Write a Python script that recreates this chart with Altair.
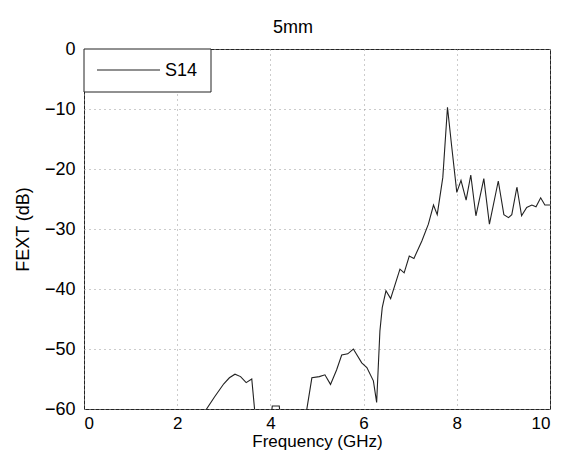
import altair as alt
import pandas as pd

freq = [2.45, 2.63, 2.80, 3.00, 3.12, 3.24, 3.36, 3.48, 3.60, 3.72,
        3.90, 4.02, 4.04, 4.19, 4.21, 4.45, 4.72,
        4.89, 5.05, 5.17, 5.29, 5.42, 5.53, 5.66, 5.78, 5.96, 6.07, 6.21, 6.28,
        6.35, 6.40, 6.48, 6.58, 6.78, 6.87, 6.98, 7.08, 7.25, 7.39, 7.50, 7.58,
        7.70, 7.80, 7.89, 8.00, 8.09, 8.20, 8.30, 8.41, 8.58, 8.70, 8.89, 9.01,
        9.11, 9.18, 9.29, 9.39, 9.50, 9.61, 9.70, 9.80, 9.89, 10.0]
fext = [-63.0, -60.0, -58.0, -55.8, -54.8, -54.2, -54.6, -55.6, -55.0, -65.0,
        -66.0, -61.0, -59.5, -59.5, -61.0, -66.0, -63.0,
        -54.8, -54.6, -54.3, -55.9, -53.5, -51.0, -50.8, -50.0, -52.3, -53.1, -55.3, -58.9,
        -47.0, -43.1, -40.3, -41.6, -36.7, -37.3, -34.5, -34.9, -32.0, -29.2, -26.0, -27.6,
        -21.4, -9.7, -16.2, -23.9, -21.9, -25.2, -21.0, -27.8, -21.6, -29.2, -22.0, -27.6,
        -28.1, -27.6, -23.0, -27.8, -26.4, -26.0, -26.3, -24.8, -26.0, -26.0]
series_name = "S14"

x_ticks = [0, 2, 4, 6, 8, 10]
y_ticks = [0, -10, -20, -30, -40, -50, -60]

df = pd.DataFrame({"freq": freq, "fext": fext})
legend_df = pd.DataFrame({"series": [series_name]})

font = "Liberation Sans"
ink = "#222222"

line = alt.Chart(df).mark_line(clip=True, strokeWidth=1.1, color=ink).encode(
    x=alt.X("freq:Q", scale=alt.Scale(domain=[0, 10], nice=False),
            axis=alt.Axis(values=x_ticks, title="Frequency (GHz)", ticks=False,
                          labelPadding=6, labelFontSize=17,
                          titlePadding=2, titleFontSize=17)),
    y=alt.Y("fext:Q", scale=alt.Scale(domain=[-60, 0], nice=False),
            axis=alt.Axis(values=y_ticks, title="FEXT (dB)", ticks=False,
                          labelPadding=9, titlePadding=12)),
)

leg_box = alt.Chart(legend_df).mark_rect(fill="white", stroke=ink, strokeWidth=1).encode(
    x=alt.value(0), x2=alt.value(127), y=alt.value(0), y2=alt.value(43)
)
leg_line = alt.Chart(legend_df).mark_rule(color=ink, strokeWidth=1.1).encode(
    x=alt.value(13), x2=alt.value(76), y=alt.value(21)
)
leg_text = alt.Chart(legend_df).mark_text(
    align="left", baseline="middle", font=font, fontSize=18, color="black"
).encode(x=alt.value(81), y=alt.value(22), text="series:N")

chart = alt.layer(line, leg_box, leg_line, leg_text).properties(
    width=466, height=360,
    title=alt.TitleParams("5mm", fontSize=18, fontWeight="normal", font=font,
                          color="black", offset=3, dx=-24),
    autosize=alt.AutoSizeParams(type="none"),
    padding={"left": 76, "top": 41, "right": 5, "bottom": 45},
).configure_view(
    stroke=ink, strokeWidth=1
).configure_axis(
    domain=False, grid=True, gridColor="#999999", gridDash=[1, 4], gridWidth=1,
    labelFont=font, labelFontSize=18, labelColor="black",
    titleFont=font, titleFontSize=18, titleFontWeight="normal", titleColor="black",
)

chart.save("out.html", embed_options={"renderer": "svg", "actions": False})
